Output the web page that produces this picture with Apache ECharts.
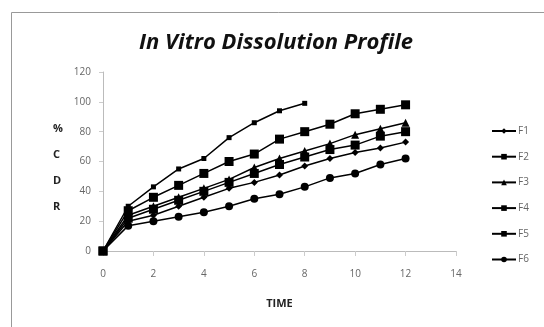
<!DOCTYPE html>
<html lang="en">
<head>
    <meta charset="UTF-8">
    <title>In Vitro Dissolution Profile</title>
    <script src="https://cdn.jsdelivr.net/npm/echarts@6/dist/echarts.min.js"></script>
    <style>
        body { margin: 0; background: #fff; }
    </style>
</head>
<body>
<div id="chart" style="width: 544px;height:327px;"></div>

<script type="text/javascript">
    var time = [0, 1, 2, 3, 4, 5, 6, 7, 8, 9, 10, 11, 12];
    var f1 = [0, 20, 24, 30, 36, 42, 46, 51, 57, 62, 66, 69, 73];
    var f2 = [0, 27, 36, 44, 52, 60, 65, 75, 80, 85, 92, 95, 98];
    var f3 = [0, 24, 30, 36, 42, 48, 56, 62, 67, 72, 78, 82, 86];
    var f4 = [0, 22, 28, 34, 40, 46, 52, 58, 63, 68, 71, 77, 80];
    var f5 = [0, 30, 43, 55, 62, 76, 86, 94, 99];
    var f6 = [0, 17, 20, 23, 26, 30, 35, 38, 43, 49, 52, 58, 62];

    var names = ['F1', 'F2', 'F3', 'F4', 'F5', 'F6'];
    var values = [f1, f2, f3, f4, f5, f6];
    var symbols = ['diamond', 'rect', 'triangle', 'rect', 'rect', 'circle'];
    var sizes = [7, 9, 8, 9, 5, 8];

    function pairs(ys) {
        return ys.map(function (y, i) { return [time[i], y]; });
    }

    var series = names.map(function (n, i) {
        return {
            name: n,
            type: 'line',
            data: pairs(values[i]),
            symbol: symbols[i],
            symbolSize: sizes[i],
            color: '#000',
            lineStyle: { color: '#000', width: 1.5 },
            itemStyle: { color: '#000' }
        };
    });

    var chart = echarts.init(document.getElementById('chart'));
    chart.setOption({
        animation: false,
        title: {
            text: 'In Vitro Dissolution Profile',
            top: 27,
            left: 271,
            textAlign: 'center',
            textStyle: { fontFamily: 'Open Sans', fontStyle: 'italic', fontWeight: 'bold', fontSize: 22, color: '#111' }
        },
        graphic: [{
            type: 'rect',
            shape: { x: 11.5, y: 12.5, width: 540, height: 320 },
            style: { fill: 'none', stroke: '#999', lineWidth: 1 },
            z: -1
        }, {
            type: 'text',
            left: 53,
            top: 122,
            style: {
                text: '%\n\nC\n\nD\n\nR',
                font: 'bold 11px "Open Sans"',
                fill: '#222',
                lineHeight: 13,
                align: 'center'
            }
        }],
        legend: {
            orient: 'vertical',
            left: 486,
            top: 121,
            itemWidth: 24,
            itemHeight: 7,
            itemGap: 15.7,
            data: names,
            textStyle: { fontSize: 10, color: '#666', fontFamily: 'Open Sans', padding: [0, 0, 0, -3] }
        },
        grid: { left: 103, right: 88, top: 72, bottom: 76 },
        xAxis: {
            type: 'value',
            min: 0, max: 14, interval: 2,
            name: 'TIME',
            nameLocation: 'middle',
            nameGap: 47,
            nameTextStyle: { fontWeight: 'bold', fontSize: 11, color: '#222', fontFamily: 'Open Sans' },
            splitLine: { show: false },
            axisLine: { lineStyle: { color: '#bbb' } },
            axisTick: { show: true, length: 5, lineStyle: { color: '#ccc' } },
            axisLabel: { fontSize: 10, color: '#666', margin: 18, fontFamily: 'Open Sans' }
        },
        yAxis: {
            type: 'value',
            min: 0, max: 120, interval: 20,
            splitLine: { show: false },
            axisLine: { show: true, lineStyle: { color: '#bbb' } },
            axisTick: { show: true, length: 4, lineStyle: { color: '#ccc' } },
            axisLabel: { fontSize: 10, color: '#666', margin: 12, fontFamily: 'Open Sans' }
        },
        series: series
    });
</script>
</body>
</html>
